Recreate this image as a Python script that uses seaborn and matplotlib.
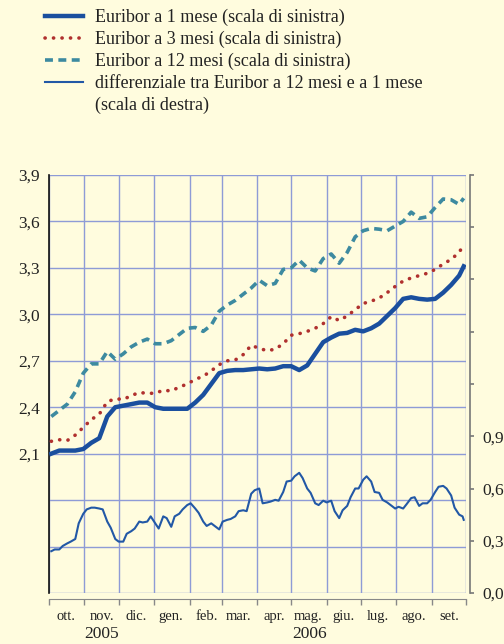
import pandas as pd
import numpy as np
import matplotlib
matplotlib.use("Agg")
import matplotlib.pyplot as plt
import matplotlib.dates as mdates
import matplotlib.transforms as mtransforms
from matplotlib.lines import Line2D
import seaborn as sns

plt.rcParams["font.family"] = ["Liberation Serif", "DejaVu Serif"]

# weekly observations (Mondays) plus the last day of the window
weekly_dates = list(pd.date_range("2005-10-03", "2006-09-25", freq="7D")) + [pd.Timestamp("2006-09-29")]

euribor_1m = [2.10, 2.12, 2.12, 2.12, 2.13, 2.17, 2.20, 2.34, 2.40, 2.41, 2.42, 2.43, 2.43,
              2.40, 2.39, 2.39, 2.39, 2.39, 2.43, 2.48, 2.55, 2.62, 2.635, 2.64, 2.64, 2.645,
              2.65, 2.645, 2.65, 2.665, 2.665, 2.64, 2.67, 2.745, 2.82, 2.85, 2.875, 2.88, 2.90,
              2.89, 2.91, 2.94, 2.99, 3.04, 3.10, 3.11, 3.10, 3.095, 3.10, 3.14, 3.19, 3.25, 3.31]

euribor_3m = [2.18, 2.19, 2.185, 2.22, 2.27, 2.32, 2.355, 2.435, 2.455, 2.45, 2.475, 2.495, 2.49,
              2.49, 2.51, 2.505, 2.53, 2.55, 2.58, 2.60, 2.635, 2.675, 2.70, 2.705, 2.74, 2.80,
              2.78, 2.765, 2.775, 2.81, 2.865, 2.875, 2.89, 2.91, 2.94, 2.985, 2.96, 2.99, 3.03,
              3.07, 3.085, 3.105, 3.14, 3.18, 3.215, 3.235, 3.25, 3.265, 3.29, 3.325, 3.355, 3.40, 3.45]

euribor_12m = [2.34, 2.38, 2.42, 2.50, 2.62, 2.68, 2.68, 2.76, 2.71, 2.745, 2.79, 2.82, 2.84,
               2.81, 2.81, 2.83, 2.87, 2.91, 2.915, 2.89, 2.93, 3.02, 3.06, 3.09, 3.13, 3.17,
               3.22, 3.185, 3.20, 3.29, 3.30, 3.35, 3.30, 3.28, 3.36, 3.39, 3.33, 3.40, 3.50,
               3.54, 3.555, 3.55, 3.54, 3.57, 3.60, 3.66, 3.62, 3.63, 3.69, 3.745, 3.74, 3.71, 3.75]

# spread 12m - 1m, twice a week (Mon/Thu)
spread_dates = sorted(list(pd.date_range("2005-10-03", "2006-09-25", freq="W-MON"))
                      + list(pd.date_range("2005-10-06", "2006-09-28", freq="W-THU"))) + [pd.Timestamp("2006-09-29")]

spread = [0.24, 0.25, 0.25, 0.27, 0.285, 0.295, 0.31, 0.40, 0.455, 0.48, 0.49, 0.49, 0.485, 0.48,
          0.41, 0.375, 0.31, 0.295, 0.295, 0.34, 0.355, 0.37, 0.41, 0.405, 0.41, 0.44, 0.40, 0.37,
          0.44, 0.43, 0.38, 0.44, 0.455, 0.48, 0.505, 0.515, 0.485, 0.46, 0.41, 0.385, 0.40, 0.385,
          0.365, 0.41, 0.42, 0.425, 0.44, 0.47, 0.475, 0.47, 0.57, 0.59, 0.60, 0.515, 0.52, 0.525,
          0.535, 0.53, 0.58, 0.64, 0.645, 0.67, 0.69, 0.66, 0.60, 0.575, 0.515, 0.505, 0.53, 0.52,
          0.53, 0.47, 0.43, 0.475, 0.50, 0.55, 0.60, 0.60, 0.65, 0.67, 0.64, 0.58, 0.575, 0.535,
          0.52, 0.505, 0.485, 0.495, 0.485, 0.51, 0.545, 0.55, 0.50, 0.515, 0.515, 0.535, 0.58, 0.61,
          0.615, 0.60, 0.56, 0.49, 0.45, 0.44, 0.42]

month_labels = ["ott.", "nov.", "dic.", "gen.", "feb.", "mar.", "apr.", "mag.", "giu.", "lug.", "ago.", "set."]
years = ["2005", "2006"]
year_centres = [pd.Timestamp("2005-11-16"), pd.Timestamp("2006-05-17")]

legend_labels = ["Euribor a 1 mese (scala di sinistra)",
                 "Euribor a 3 mesi (scala di sinistra)",
                 "Euribor a 12 mesi (scala di sinistra)",
                 "differenziale tra Euribor a 12 mesi e a 1 mese",
                 "(scala di destra)"]

bg = "#fffcde"
grid_col = "#8e9bd6"
c1 = "#1a4f9e"
c3 = "#b0302e"
c12 = "#3d8aa0"
cs = "#2258a6"

fig = plt.figure(figsize=(5.04, 6.44), dpi=100, facecolor=bg)
ax = fig.add_axes([49 / 504, 1 - 593 / 644, 417 / 504, 418 / 644])
ax.set_facecolor(bg)
ax2 = ax.twinx()

sns.lineplot(x=weekly_dates, y=euribor_12m, ax=ax, color=c12, lw=2.6,
             linestyle=(0, (2.2, 1.5)), legend=False, zorder=3)
sns.lineplot(x=weekly_dates, y=euribor_3m, ax=ax, color=c3, lw=2.6,
             linestyle=(0, (0.05, 2.3)), dash_capstyle="round", legend=False, zorder=4)
sns.lineplot(x=weekly_dates, y=euribor_1m, ax=ax, color=c1, lw=3.2, legend=False, zorder=5)
sns.lineplot(x=spread_dates, y=spread, ax=ax2, color=cs, lw=1.5, legend=False)

# x axis
ax.set_xlim(pd.Timestamp("2005-10-01"), pd.Timestamp("2006-10-01"))
ax.xaxis.set_major_locator(mdates.MonthLocator())
ax.xaxis.set_major_formatter(plt.NullFormatter())
ax.set_xticks(pd.date_range("2005-10-01", "2006-09-01", freq="MS") + pd.Timedelta(days=15), minor=True)
ax.set_xticklabels(month_labels, minor=True)
ax.tick_params(axis="x", which="minor", length=0, pad=8, labelsize=10.5, labelcolor="#222")
ax.tick_params(axis="x", which="major", length=4, direction="out", color="#888", width=1)
ax.set_xlabel("")
ax2.set_xlabel("")

trans = mtransforms.blended_transform_factory(ax.transData, ax.transAxes)
for yr, xc in zip(years, year_centres):
    ax.text(xc, -0.098, yr, transform=trans, ha="center", va="center", fontsize=12.5, color="#222")

# left axis
fmt = lambda v: f"{v:.1f}".replace(".", ",")
left_ticks = [round(1.2 + 0.3 * i, 1) for i in range(10)]
ax.set_ylim(1.2, 3.9)
ax.set_yticks(left_ticks)
ax.set_yticklabels([fmt(v) if v >= 2.05 else "" for v in left_ticks])
ax.tick_params(axis="y", length=0, pad=6.5, labelsize=12.5, labelcolor="#222")

# right axis
right_ticks = [round(0.3 * i, 1) for i in range(9)]
ax2.set_ylim(0, 2.4)
ax2.set_yticks(right_ticks)
ax2.set_yticklabels([fmt(v) if v <= 0.95 else "" for v in right_ticks])
ax2.tick_params(axis="y", length=3, direction="out", color="#777", width=1.2,
                pad=6, labelsize=12.5, labelcolor="#222")

ax.grid(True, which="major", color=grid_col, lw=1.0)
ax.set_axisbelow(True)
ax2.grid(False)

for a in (ax, ax2):
    for s in ("top", "bottom", "left", "right"):
        a.spines[s].set_visible(False)
ax.spines["left"].set_visible(True)
ax.spines["left"].set_color("#111")
ax.spines["left"].set_linewidth(1.2)
ax.spines["bottom"].set_visible(True)
ax.spines["bottom"].set_color("#888")
ax.spines["bottom"].set_position(("outward", 4))
ax2.spines["right"].set_visible(True)
ax2.spines["right"].set_color("#777")
ax2.spines["right"].set_linewidth(1.2)
ax2.spines["right"].set_position(("outward", 3))

handles = [Line2D([], [], color=c1, lw=3.2),
           Line2D([], [], color=c3, lw=2.6, linestyle=(0, (0.05, 2.3)), dash_capstyle="round"),
           Line2D([], [], color=c12, lw=2.6, linestyle=(0, (2.2, 1.5))),
           Line2D([], [], color=cs, lw=1.5),
           Line2D([], [], color="none")]
fig.legend(handles, legend_labels, loc="upper left", bbox_to_anchor=(45 / 504, 1 - 9 / 644),
           frameon=False, fontsize=13, handlelength=2.1, handletextpad=0.65,
           borderpad=0, borderaxespad=0, labelspacing=0.26, labelcolor="#222")

fig.savefig("out.png", dpi=100, facecolor=bg)
